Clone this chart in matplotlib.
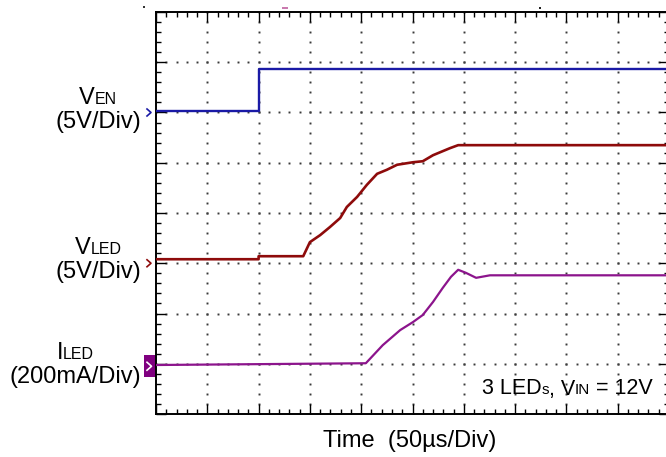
import matplotlib
matplotlib.use("Agg")
from matplotlib import pyplot as plt
from matplotlib.patches import Rectangle
from matplotlib.offsetbox import TextArea, HPacker, VPacker, AnnotationBbox
import numpy as np

FONT = ["Liberation Sans", "DejaVu Sans"]
plt.rcParams["font.family"] = FONT

# scope screen: 10 x 8 divisions, values in divisions
n_xdiv, n_ydiv = 10, 8

# channel ground markers (div)
ch_offsets = [6.0, 3.0, 0.95]
ch_colors = ["#1a1aa6", "#8e0b0b", "#8c148c"]

# V_EN trace (div)
ven_t = [0.0, 2.0, 2.0, 10.0]
ven_v = [6.02, 6.02, 6.87, 6.87]

# V_LED trace (div)
vled_t = [0.0, 2.0, 2.0, 2.87, 3.00, 3.20, 3.39, 3.59, 3.72, 3.92, 4.11, 4.31,
          4.50, 4.70, 5.01, 5.20, 5.40, 5.73, 5.89, 10.0]
vled_v = [3.08, 3.08, 3.14, 3.14, 3.42, 3.56, 3.72, 3.90, 4.12, 4.32, 4.56, 4.78,
          4.86, 4.96, 5.01, 5.03, 5.15, 5.29, 5.35, 5.35]

# I_LED trace (div)
iled_t = [0.0, 4.09, 4.42, 4.76, 5.01, 5.20, 5.40, 5.59, 5.75, 5.89, 6.04, 6.24, 6.51, 10.0]
iled_v = [0.975, 1.01, 1.37, 1.67, 1.83, 1.97, 2.23, 2.51, 2.73, 2.87, 2.81, 2.71, 2.76, 2.76]

W, H = 666, 457
fig = plt.figure(figsize=(W / 100, H / 100), dpi=100)
ax = fig.add_axes([156 / W, 43 / H, 513 / W, 402 / H])
ax.set_xlim(0, n_xdiv)
ax.set_ylim(0, n_ydiv)

px_x = n_xdiv / 513.0
px_y = n_ydiv / 402.0

# dotted graticule
minor_x = np.arange(0, n_xdiv + 1e-9, 0.2)
minor_y = np.arange(0, n_ydiv + 1e-9, 0.2)
for xv in range(1, n_xdiv):
    ax.plot(np.full_like(minor_y, xv), minor_y, ls="none", marker="s", ms=1.4,
            mew=0, color="#3a3a3a", zorder=1)
for yv in range(1, n_ydiv):
    ax.plot(minor_x, np.full_like(minor_x, yv), ls="none", marker="s", ms=1.4,
            mew=0, color="#3a3a3a", zorder=1)

ax.set_xticks(range(0, n_xdiv + 1))
ax.set_yticks(range(0, n_ydiv + 1))
ax.set_xticks(minor_x, minor=True)
ax.set_yticks(minor_y, minor=True)
ax.set_xticklabels([])
ax.set_yticklabels([])
ax.tick_params(which="both", direction="in", top=True, right=True, width=1.0, color="black")
ax.tick_params(which="major", length=7.5)
ax.tick_params(which="minor", length=3.8)
for s in ax.spines.values():
    s.set_linewidth(1.4)

# traces
ax.plot(ven_t, ven_v, color=ch_colors[0], lw=1.7, zorder=3)
ax.plot(vled_t, vled_v, color=ch_colors[1], lw=1.9, zorder=3)
ax.plot(iled_t, iled_v, color=ch_colors[2], lw=1.6, zorder=3)

# channel markers
for i, (off, col) in enumerate(zip(ch_offsets, ch_colors)):
    if i < 2:
        ax.plot([-9 * px_x, -5 * px_x, -9 * px_x],
                [off + 3.5 * px_y, off, off - 3.5 * px_y],
                color=col, lw=1.2, clip_on=False)
    else:
        ax.add_patch(Rectangle((-12 * px_x, off - 11 * px_y), 12 * px_x, 22 * px_y,
                               color="#800080", clip_on=False, lw=0))
        ax.plot([-9 * px_x, -4.5 * px_x, -9 * px_x],
                [off + 4 * px_y, off, off - 4 * px_y],
                color="white", lw=1.2, clip_on=False)

# tiny marks on top edge
ax.plot([-0.23], [8.1], ls="none", marker="s", ms=1.5, mew=0, color="#333333", clip_on=False)
ax.plot([2.51], [8.08], ls="none", marker="_", ms=4, mew=1.2, color="#c060a0", clip_on=False)
ax.plot([7.49], [8.08], ls="none", marker="s", ms=2, mew=0, color="#222222", clip_on=False)

BIG, SMALL = 17, 11.5


def row(parts):
    kids = [TextArea(t, textprops=dict(fontsize=s, family=FONT, color="black")) for t, s in parts]
    return HPacker(children=kids, align="baseline", pad=0, sep=0)


def channel_label(main, sub, scale, yc):
    box = VPacker(children=[row([(main, BIG), (sub, SMALL)]),
                            TextArea(scale, textprops=dict(fontsize=BIG, family=FONT))],
                  align="center", pad=0, sep=1)
    ab = AnnotationBbox(box, (141 / W, 1 - yc / H), xycoords="figure fraction",
                        box_alignment=(1, 0.5), frameon=False, pad=0)
    fig.add_artist(ab)


channel_label("V", "EN", "(5V/Div)", 110)
channel_label("V", "LED", "(5V/Div)", 260)
channel_label("I", "LED", "(200mA/Div)", 365)

note = row([("3 LED", 15.5), ("s", 11), (", V", 15.5), ("IN", 11), (" = 12V", 15.5)])
fig.add_artist(AnnotationBbox(note, (653 / W, 1 - 389 / H), xycoords="figure fraction",
                              box_alignment=(1, 0.5), frameon=False, pad=0))

fig.text(410 / W, 1 - 441 / H, "Time  (50\u00b5s/Div)", fontsize=BIG,
         ha="center", va="center")

fig.savefig("out.png", dpi=100)
